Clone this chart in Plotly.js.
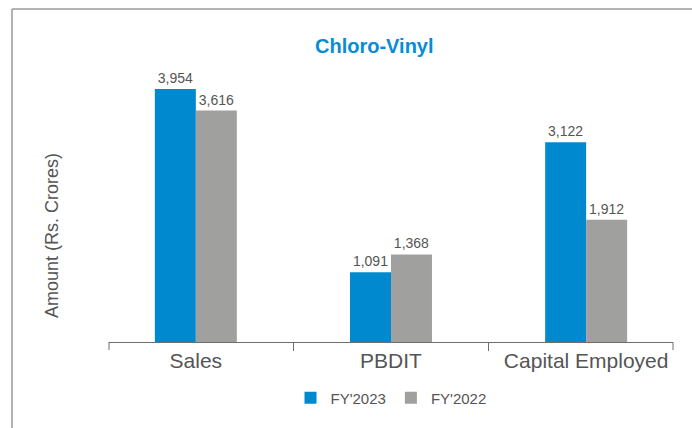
<!DOCTYPE html>
<html>
<head>
<meta charset="utf-8">
<script src="https://cdn.plot.ly/plotly-3.0.1.min.js"></script>
<style>html,body{margin:0;padding:0;background:#fff;}#chart{width:692px;height:428px;}</style>
</head>
<body>
<div id="chart"></div>
<script>
const categories = ["Sales", "PBDIT", "Capital Employed"];
const fy2023 = [3954, 1091, 3122];
const fy2022 = [3616, 1368, 1912];
const seriesNames = ["FY'2023", "FY'2022"];

const fmt = v => v.toLocaleString('en-US');
const font = "'Liberation Sans', Arial, Helvetica, sans-serif";
const txt = '#555555';
const axisCol = '#6e6e6e';

const traces = [
  {type: 'bar', name: seriesNames[0], x: categories, y: fy2023,
   marker: {color: '#0089cf'}, text: fy2023.map(fmt), textposition: 'outside',
   textfont: {family: font, size: 14, color: txt}, cliponaxis: false, hoverinfo: 'none'},
  {type: 'bar', name: seriesNames[1], x: categories, y: fy2022,
   marker: {color: '#a0a19f'}, text: fy2022.map(fmt), textposition: 'outside',
   textfont: {family: font, size: 14, color: txt}, cliponaxis: false, hoverinfo: 'none'}
];

const layout = {
  width: 692, height: 428,
  margin: {l: 109, r: 19, t: 62, b: 86, pad: 0},
  paper_bgcolor: '#ffffff', plot_bgcolor: '#ffffff',
  font: {family: font, color: txt},
  barmode: 'group', bargap: 0.58, bargroupgap: 0,
  showlegend: true,
  legend: {orientation: 'h', x: 0.5, xanchor: 'center', y: -0.2, yanchor: 'middle',
           font: {family: font, size: 15, color: txt}, traceorder: 'normal'},
  xaxis: {type: 'category', range: [-0.445, 2.445], showline: true, linecolor: axisCol, linewidth: 1,
          ticks: 'outside', tickson: 'boundaries', ticklen: 8, tickcolor: axisCol, tickwidth: 1,
          tickfont: {family: font, size: 21, color: txt}, showgrid: false, zeroline: false, fixedrange: true},
  yaxis: {range: [0, 4375], showline: false, showticklabels: false, ticks: '', showgrid: false,
          zeroline: false, fixedrange: true},
  annotations: [
    {text: '<b>Chloro-Vinyl</b>', xref: 'paper', yref: 'paper', x: 0.47, y: 1.057,
     xanchor: 'center', yanchor: 'middle', showarrow: false,
     font: {family: font, size: 20, color: '#0a8bd3'}},
    {text: 'Amount (Rs. Crores)', xref: 'paper', yref: 'paper', x: -0.101, y: 0.379,
     xanchor: 'center', yanchor: 'middle', textangle: -90, showarrow: false,
     font: {family: font, size: 18, color: txt}}
  ],
  shapes: [
    {type: 'line', xref: 'paper', yref: 'paper', x0: -0.172, x1: 1.04, y0: 1.189, y1: 1.189,
     line: {color: '#9a9a9a', width: 1.5}},
    {type: 'line', xref: 'paper', yref: 'paper', x0: -0.172, x1: -0.172, y0: 1.189, y1: -0.31,
     line: {color: '#9a9a9a', width: 1.5}},
    {type: 'line', xref: 'paper', yref: 'paper', x0: 0, x1: 0, y0: 0, y1: -0.0286,
     line: {color: axisCol, width: 1}},
    {type: 'line', xref: 'paper', yref: 'paper', x0: 1, x1: 1, y0: 0, y1: -0.0286,
     line: {color: axisCol, width: 1}}
  ]
};

Plotly.newPlot('chart', traces, layout, {displayModeBar: false, staticPlot: true});
</script>
</body>
</html>
